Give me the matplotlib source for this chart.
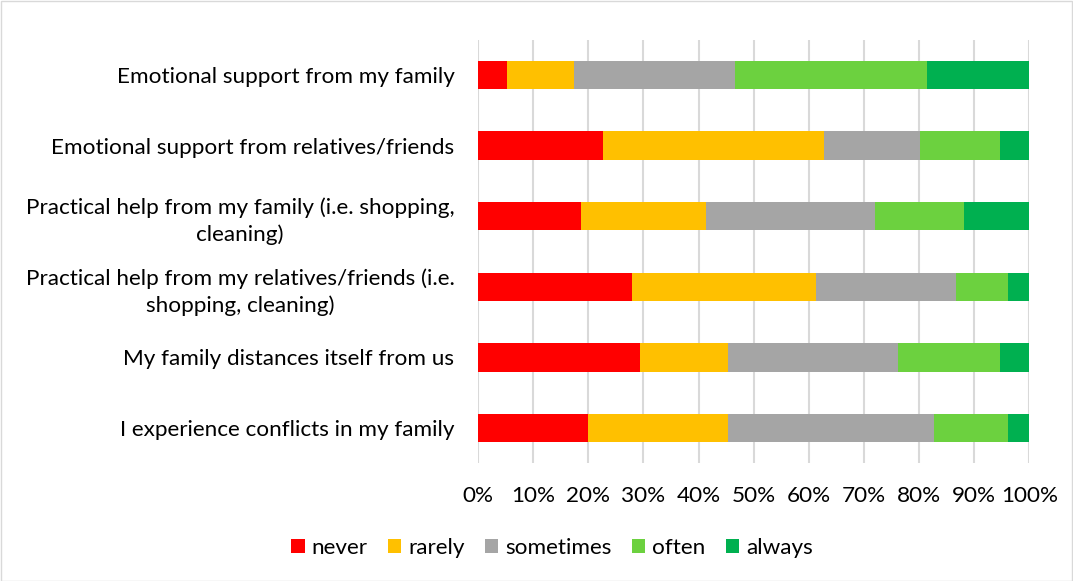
import matplotlib
matplotlib.use("Agg")
import matplotlib.pyplot as plt
import numpy as np
from matplotlib.patches import Rectangle

categories = [
    "Emotional support from my family",
    "Emotional support from relatives/friends",
    "Practical help from my family (i.e. shopping,\ncleaning)",
    "Practical help from my relatives/friends (i.e.\nshopping, cleaning)",
    "My family distances itself from us",
    "I experience conflicts in my family",
]
series_names = ["never", "rarely", "sometimes", "often", "always"]
never = [5.3, 22.6, 18.6, 28.0, 29.3, 19.9]
rarely = [12.1, 40.1, 22.8, 33.3, 16.0, 25.4]
sometimes = [29.3, 17.4, 30.6, 25.4, 30.8, 37.4]
often = [34.7, 14.6, 16.1, 9.4, 18.6, 13.4]
always = [18.6, 5.3, 11.9, 3.9, 5.3, 3.9]
colors = ["#FF0000", "#FFC000", "#A5A5A5", "#6CD13F", "#00B050"]
xticks = [0, 10, 20, 30, 40, 50, 60, 70, 80, 90, 100]
xticklabels = [f"{t}%" for t in xticks]

plt.rcParams['font.family'] = ['Lato', 'DejaVu Sans']

W, H = 1073, 581
FS = 16.2
fig = plt.figure(figsize=(W / 100, H / 100), dpi=100)
ax = fig.add_axes([478 / W, 1 - 463.3 / H, (1029.3 - 478) / W, (463.3 - 39.7) / H])

data = [never, rarely, sometimes, often, always]
y = np.arange(len(categories))
left = np.zeros(len(categories))
for vals, name, c in zip(data, series_names, colors):
    v = np.array(vals)
    ax.barh(y, v, left=left, height=0.4, color=c, label=name, zorder=3)
    left += v

ax.set_xlim(0, 100)
ax.set_ylim(len(categories) - 0.5, -0.5)
ax.set_yticks(y)
ax.set_yticklabels(categories, fontsize=FS, color="#000000", multialignment="center",
                   linespacing=1.4)
ax.set_xticks(xticks)
ax.set_xticklabels(xticklabels, fontsize=FS, color="#000000")
ax.tick_params(axis="y", length=0, pad=17)
ax.tick_params(axis="x", length=0, pad=16)
ax.grid(axis="x", color="#D9D9D9", linewidth=1.5, zorder=0)
for s in ax.spines.values():
    s.set_visible(False)

handles, labels = ax.get_legend_handles_labels()
leg = fig.legend(handles, labels, loc="center", bbox_to_anchor=(552 / W, 1 - 548 / H),
                 ncol=5, frameon=False, fontsize=FS, handlelength=0.6, handleheight=0.6,
                 handletextpad=0.3, columnspacing=0.9)

fig.patches.append(Rectangle((0.5 / W, 0.5 / H), 1 - 1.5 / W, 1 - 1.5 / H, transform=fig.transFigure,
                             fill=False, edgecolor="#D9D9D9", linewidth=1))
fig.savefig("out.png", dpi=100)
